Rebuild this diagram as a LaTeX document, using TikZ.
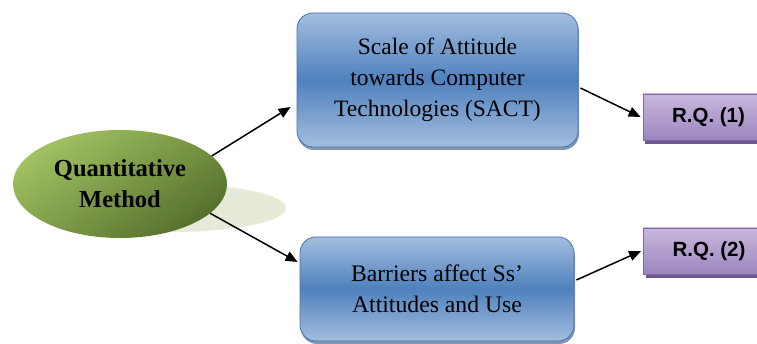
\documentclass[tikz,border=0pt]{standalone}
\usepackage{fontspec}
\setmainfont{Liberation Serif}
\newfontfamily\rqfont{Liberation Sans}
\usetikzlibrary{arrows.meta,shadows,shapes.geometric}
\definecolor{bluetop}{HTML}{A3BDDF}
\definecolor{bluemid}{HTML}{4F81BD}
\definecolor{blueedge}{HTML}{4575B0}
\definecolor{greenlight}{HTML}{A2C262}
\definecolor{greendark}{HTML}{56702C}
\definecolor{ellshadow}{HTML}{E6EAD9}
\definecolor{purptop}{HTML}{C8B8DE}
\definecolor{purpbot}{HTML}{9C85BE}
\definecolor{purpedge}{HTML}{8466A8}
\definecolor{purpshadow}{HTML}{5E4682}
\tikzset{
  bluebox/.style={rounded corners=16pt, draw=blueedge, line width=0.8pt,
    top color=bluetop, bottom color=bluetop, middle color=bluemid,
    drop shadow={shadow xshift=1pt, shadow yshift=-3pt, fill=blueedge!70!black, opacity=0.6},
    align=center, text=black},
  rqbox/.style={draw=purpedge, line width=0.8pt, top color=purptop, bottom color=purpbot,
    drop shadow={shadow xshift=2pt, shadow yshift=-4pt, fill=purpshadow, opacity=0.9},
    minimum width=131pt, minimum height=46pt, font=\rqfont\bfseries\fontsize{20.5}{24}\selectfont},
  conn/.style={line width=1.5pt, -{Triangle[length=12pt,width=10pt]}},
}
\begin{document}
\begin{tikzpicture}[x=1pt,y=1pt]
\path[use as bounding box, clip] (0,0) rectangle (757,344);
\fill[white] (0,0) rectangle (757,344);
% ellipse shadow
\fill[ellshadow] (172,136) ellipse [x radius=114pt, y radius=24pt];
% quantitative method
\node[ellipse, minimum width=214pt, minimum height=108pt, inner sep=0pt,
  top color=greenlight, bottom color=greendark, shading angle=35,
  align=center, font=\bfseries\fontsize{24.5}{31}\selectfont] (qm) at (120,160)
  {Quantitative\\Method};
% boxes
\node[bluebox, minimum width=281pt, minimum height=134pt,
  font=\fontsize{23.5}{31}\selectfont] (sact) at (437.5,264)
  {Scale of Attitude\\towards Computer\\Technologies (SACT)};
\node[bluebox, minimum width=274pt, minimum height=104pt,
  font=\fontsize{23.7}{30.5}\selectfont] (bar) at (437,55)
  {Barriers affect Ss’\\Attitudes and Use};
\node[rqbox] (rq1) at (708.5,227) {R.Q. (1)};
\node[rqbox] (rq2) at (709,93) {R.Q. (2)};
% connectors
\draw[conn] (qm.17.5) -- ([xshift=-6pt,yshift=-27pt]sact.west);
\draw[conn] (qm.-18.6) -- ([xshift=-2pt,yshift=27pt]bar.west);
\draw[conn] ([xshift=2pt,yshift=-8pt]sact.east) -- ([xshift=-2pt]rq1.west);
\draw[conn] ([xshift=2pt,yshift=9pt]bar.east) -- ([xshift=-2pt]rq2.west);
\end{tikzpicture}
\end{document}
